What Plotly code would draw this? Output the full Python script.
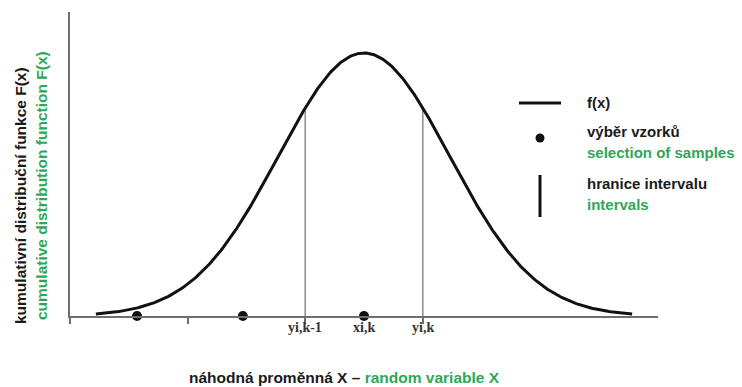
import numpy as np
import plotly.graph_objects as go

# Normal density f(x) on an interval grid: boundaries at integer positions
mean = 2.5
sigma = 0.73
curve_start, curve_end = 0.22, 4.78

# sample points x_i drawn on the axis
sample_x = [0.57, 1.47, 2.5]
# interval boundaries y_{i,k-1}, y_{i,k} (drawn as vertical lines up to f(x))
boundary_x = [2.0, 3.0]
# axis tick positions (unlabelled) and the labelled positions
tick_x = [0, 1, 2, 3]
label_x = [2.0, 2.5, 3.0]
label_text = ["yi,k-1", "xi,k", "yi,k"]

GREEN = "#2ea858"
DARK = "#1a1a1a"
AXIS = "#6e6e6e"


def pdf(x):
    return np.exp(-0.5 * ((x - mean) / sigma) ** 2) / (sigma * np.sqrt(2 * np.pi))


xs = np.linspace(curve_start, curve_end, 400)
ys = pdf(xs)
peak = pdf(mean)
y_top = peak * 304 / 263

fig = go.Figure()

# vertical interval boundaries from the axis up to the curve
for bx in boundary_x:
    fig.add_trace(go.Scatter(
        x=[bx, bx], y=[0, pdf(bx)], mode="lines",
        line=dict(color="#8c8c8c", width=1.5), hoverinfo="skip", showlegend=False,
    ))

fig.add_trace(go.Scatter(
    x=xs, y=ys, mode="lines", line=dict(color="#111111", width=3),
    showlegend=False, hoverinfo="skip",
))

fig.add_trace(go.Scatter(
    x=sample_x, y=[0] * len(sample_x), mode="markers",
    marker=dict(color="#111111", size=10), cliponaxis=False, showlegend=False,
))

W, H = 742, 387
L, R, T, B = 70, 84, 12, 71
pw, ph = W - L - R, H - T - B


def px(xp):
    return (xp - L) / pw


def py(yp):
    return (H - B - yp) / ph


shapes = [
    # legend: line sample for f(x)
    dict(type="line", xref="paper", yref="paper", x0=px(519), x1=px(561),
         y0=py(103), y1=py(103), line=dict(color="#111111", width=3)),
    # legend: sample point
    dict(type="circle", xref="paper", yref="paper", x0=px(535.5), x1=px(544.5),
         y0=py(133.5), y1=py(142.5), fillcolor="#111111", line=dict(width=0)),
    # legend: interval boundary
    dict(type="line", xref="paper", yref="paper", x0=px(540), x1=px(540),
         y0=py(175), y1=py(217), line=dict(color="#111111", width=3)),
]

font_main = "Liberation Sans, Arial, sans-serif"
annotations = []
legend_rows = [
    ("f(x)", 103, DARK),
    ("výběr vzorků", 131, DARK),
    ("selection of samples", 152, GREEN),
    ("hranice intervalu", 183, DARK),
    ("intervals", 204, GREEN),
]
for txt, yy, col in legend_rows:
    annotations.append(dict(
        text="<b>" + txt + "</b>", xref="paper", yref="paper", x=px(585), y=py(yy),
        xanchor="left", yanchor="middle", showarrow=False,
        font=dict(family=font_main, size=15, color=col),
    ))

for lx, lt in zip(label_x, label_text):
    annotations.append(dict(
        text="<b>" + lt + "</b>", xref="x", yref="paper", x=lx, y=py(327),
        xanchor="center", yanchor="middle", showarrow=False,
        font=dict(family="Liberation Serif, Times New Roman, serif", size=14, color="#333333"),
    ))

# axis titles
annotations.append(dict(
    text="<b>náhodná proměnná X – <span style='color:%s'>random variable X</span></b>" % GREEN,
    xref="paper", yref="paper", x=px(344), y=py(377), xanchor="center", yanchor="middle",
    showarrow=False, font=dict(family=font_main, size=15.5, color=DARK),
))
annotations.append(dict(
    text="<b>kumulativní distribuční funkce F(x)</b>", xref="paper", yref="paper",
    x=px(20), y=py(196), xanchor="center", yanchor="middle", textangle=-90,
    showarrow=False, font=dict(family=font_main, size=15.5, color=DARK),
))
annotations.append(dict(
    text="<b>cumulative distribution function F(x)</b>", xref="paper", yref="paper",
    x=px(41), y=py(186), xanchor="center", yanchor="middle", textangle=-90,
    showarrow=False, font=dict(family=font_main, size=15.5, color=GREEN),
))

fig.update_layout(
    width=W, height=H,
    margin=dict(l=L, r=R, t=T, b=B),
    plot_bgcolor="white", paper_bgcolor="white",
    xaxis=dict(range=[0, 5], showgrid=False, zeroline=False, showline=True,
               linecolor=AXIS, linewidth=2, tickvals=tick_x, ticktext=[""] * len(tick_x),
               ticks="outside", ticklen=6, tickwidth=2, tickcolor=AXIS),
    yaxis=dict(range=[0, y_top], showgrid=False, zeroline=False, showline=True,
               linecolor=AXIS, linewidth=2, showticklabels=False, ticks=""),
    shapes=shapes, annotations=annotations, showlegend=False,
)

fig.write_html("out.html")
